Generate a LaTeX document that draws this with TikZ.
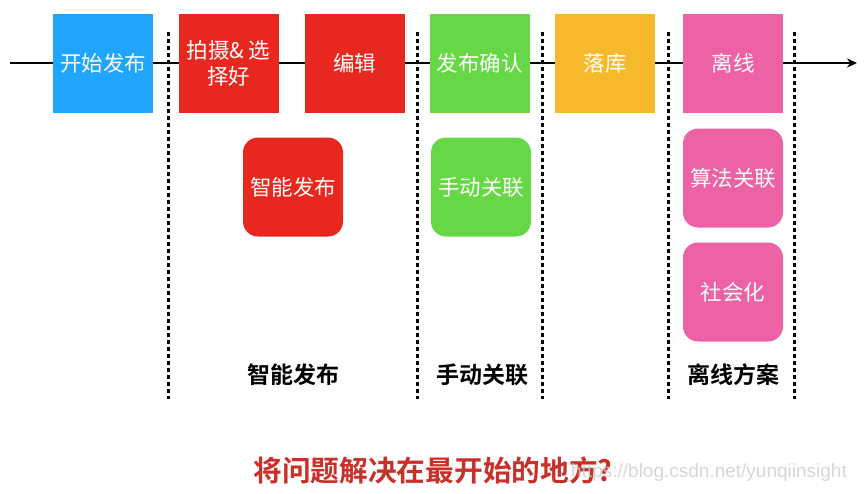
\documentclass[tikz,border=0pt]{standalone}
\usepackage{fontspec}
\newfontfamily\cjk{Noto Sans CJK SC}
\newfontfamily\cjkb{Noto Sans CJK SC Bold}
\setmainfont{Liberation Sans}
\usetikzlibrary{arrows.meta}
\definecolor{cblue}{HTML}{1FA5FC}
\definecolor{cred}{HTML}{E8281F}
\definecolor{cgreen}{HTML}{66D845}
\definecolor{corange}{HTML}{F6B92B}
\definecolor{cpink}{HTML}{EC62A4}
\definecolor{ctitle}{HTML}{C8302A}
\tikzset{
  stepbox/.style={minimum width=100pt, minimum height=99pt, inner sep=0pt, text=white, font=\cjk\fontsize{21.5}{26}\selectfont, align=center},
  roundbox/.style={stepbox, rounded corners=15pt},
  sep/.style={line width=3pt, dash pattern=on 4pt off 3pt},
  lbl/.style={font=\cjkb\fontsize{23}{26}\selectfont, text=black}
}
\begin{document}
\begin{tikzpicture}[x=1pt,y=-1pt]
\useasboundingbox (0,0) rectangle (865,493);
\coordinate (s) at (10,63);
\coordinate (e) at (857,63);
\draw[line width=1.8pt, -{Stealth[length=10pt,width=9pt]}] (s) -- (e);
% dotted separators
\foreach \n/\x in {d1/168, d2/417, d3/542, d4/668, d5/794} {
  \coordinate (\n t) at (\x,32);
  \coordinate (\n b) at (\x,399);
  \draw[sep] (\n t) -- (\n b);
}
% top row
\node[stepbox, fill=cblue] (b1) at (103,63.5) {开始发布};
\node[stepbox, fill=cred] (b2) at (228.5,63.5) {拍摄\& 选\\择好};
\node[stepbox, fill=cred] (b3) at (354.5,63.5) {编辑};
\node[stepbox, fill=cgreen] (b4) at (479.5,63.5) {发布确认};
\node[stepbox, fill=corange] (b5) at (605,63.5) {落库};
\node[stepbox, fill=cpink] (b6) at (733,63.5) {离线};
% rounded boxes
\node[roundbox, fill=cred] (r1) at (293,187) {智能发布};
\node[roundbox, fill=cgreen] (r2) at (481,187) {手动关联};
\node[roundbox, fill=cpink] (r3) at (733,178) {算法关联};
\node[roundbox, fill=cpink] (r4) at (733,292) {社会化};
% labels
\node[lbl] (l1) at (293,375) {智能发布};
\node[lbl] (l2) at (482,375) {手动关联};
\node[lbl] (l3) at (733,375) {离线方案};
% title
\node[font=\cjkb\fontsize{28.7}{32}\selectfont, text=ctitle] (t) at (433,470) {将问题解决在最开始的地方?};
\node[font=\fontsize{19}{21}\selectfont, text=gray!40, opacity=0.8] (w) at (709,473) {https://blog.csdn.net/yunqiinsight};
\end{tikzpicture}
\end{document}
